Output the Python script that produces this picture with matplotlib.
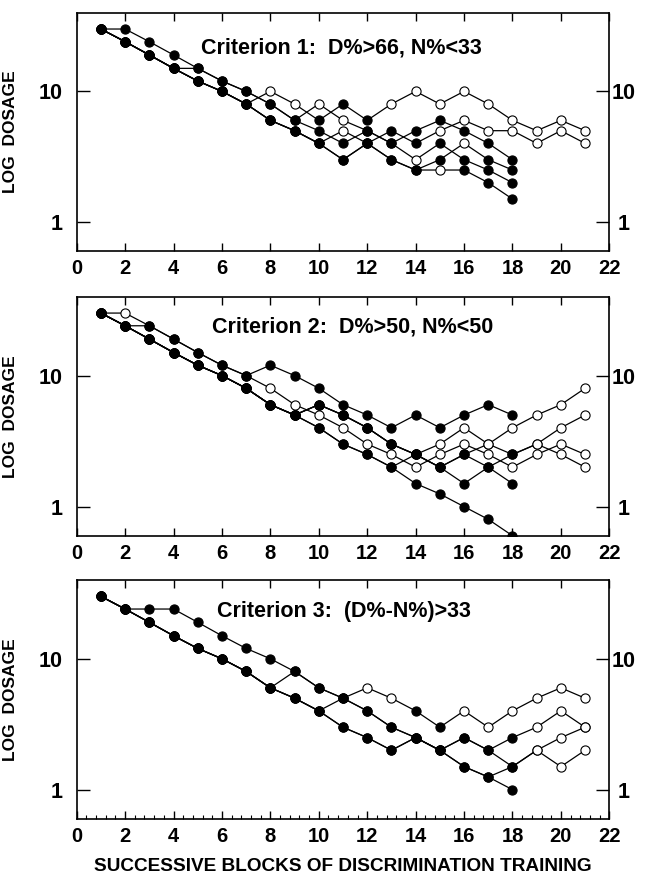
import numpy as np
import matplotlib
matplotlib.use('Agg')
from matplotlib import pyplot as plt
from matplotlib.ticker import FixedLocator, MultipleLocator, NullLocator

plt.rcParams['font.family'] = ['Liberation Sans', 'DejaVu Sans']
plt.rcParams['font.weight'] = 'bold'

# dosage per block (block 1 .. n), one list per subject; *_open = blocks drawn with open circles
# Criterion 1
c1_a = [30, 24, 19, 15, 12, 10, 8, 10, 8, 6, 8, 6, 8, 10, 8, 10, 8, 6, 5, 6, 5]
c1_a_open = [8, 9, 13, 14, 15, 16, 17, 18, 19, 20, 21]
c1_b = [30, 30, 24, 19, 15, 12, 10, 8, 6, 8, 6, 5, 4, 3, 4, 3, 2.5, 2]
c1_b_open = [10, 11, 14]
c1_c = [30, 24, 19, 15, 15, 12, 10, 8, 6, 5, 4, 5, 4, 5, 6, 5, 4, 3]
c1_c_open = []
c1_d = [30, 24, 19, 15, 12, 10, 8, 6, 5, 4, 3, 4, 3, 2.5, 3, 4, 3, 2.5]
c1_d_open = [16]
c1_e = [30, 24, 19, 15, 12, 10, 8, 6, 5, 4, 5, 4, 5, 4, 5, 6, 5, 5, 4, 5, 4]
c1_e_open = [11, 15, 16, 17, 18, 19, 20, 21]
c1_f = [30, 24, 19, 15, 12, 10, 8, 6, 5, 4, 3, 4, 3, 2.5, 2.5, 2.5, 2, 1.5]
c1_f_open = [15]

# Criterion 2
c2_a = [30, 30, 24, 19, 15, 12, 10, 12, 10, 8, 6, 5, 4, 5, 4, 5, 6, 5]
c2_a_open = [2]
c2_b = [30, 24, 24, 19, 15, 12, 10, 8, 6, 5, 4, 3, 2.5, 2, 2.5, 3, 2.5, 2, 2.5, 3, 2.5]
c2_b_open = list(range(8, 22))
c2_c = [30, 24, 19, 15, 12, 10, 8, 6, 5, 4, 3, 2.5, 2, 1.5, 1.25, 1, 0.8, 0.6]
c2_c_open = []
c2_d = [30, 24, 19, 15, 12, 10, 8, 6, 5, 6, 5, 4, 3, 2.5, 2, 1.5, 2, 1.5]
c2_d_open = []
c2_e = [30, 24, 19, 15, 12, 10, 8, 6, 5, 4, 3, 2.5, 2, 2.5, 3, 4, 3, 4, 5, 6, 8]
c2_e_open = [15, 16, 17, 18, 19, 20, 21]
c2_f = [30, 24, 19, 15, 12, 10, 8, 6, 5, 6, 5, 4, 3, 2.5, 2, 2.5, 3, 2.5, 3, 4, 5]
c2_f_open = [17, 19, 20, 21]
c2_g = [30, 24, 19, 15, 12, 10, 8, 6, 5, 6, 5, 4, 3, 2.5, 2, 2.5, 2, 2.5, 3, 2.5, 2]
c2_g_open = [19, 20, 21]

# Criterion 3
c3_a = [30, 24, 24, 24, 19, 15, 12, 10, 8, 6, 5, 4, 3, 2.5, 2, 2.5, 2, 2.5, 3, 4, 3]
c3_a_open = [19, 20, 21]
c3_b = [30, 24, 19, 15, 12, 10, 8, 6, 8, 6, 5, 4, 3, 2.5, 2, 2.5, 2, 1.5, 2, 2.5, 3]
c3_b_open = [19, 20, 21]
c3_c = [30, 24, 19, 15, 12, 10, 8, 6, 5, 4, 5, 6, 5, 4, 3, 4, 3, 4, 5, 6, 5]
c3_c_open = [12, 13, 16, 17, 18, 19, 20, 21]
c3_d = [30, 24, 19, 15, 12, 10, 8, 6, 5, 4, 3, 2.5, 2, 2.5, 2, 1.5, 1.25, 1]
c3_d_open = []
c3_e = [30, 24, 19, 15, 12, 10, 8, 6, 5, 4, 3, 2.5, 2, 2.5, 2, 1.5, 1.25, 1.5, 2, 1.5, 2]
c3_e_open = [19, 20, 21]

panels = [
    ('Criterion 1:  D%>66, N%<33', 5.15, 0.852,
     [(c1_a, c1_a_open), (c1_b, c1_b_open), (c1_c, c1_c_open),
      (c1_d, c1_d_open), (c1_e, c1_e_open), (c1_f, c1_f_open)]),
    ('Criterion 2:  D%>50, N%<50', 5.58, 0.872,
     [(c2_a, c2_a_open), (c2_b, c2_b_open), (c2_c, c2_c_open), (c2_d, c2_d_open),
      (c2_e, c2_e_open), (c2_f, c2_f_open), (c2_g, c2_g_open)]),
    ('Criterion 3:  (D%-N%)>33', 5.78, 0.867,
     [(c3_a, c3_a_open), (c3_b, c3_b_open), (c3_c, c3_c_open),
      (c3_d, c3_d_open), (c3_e, c3_e_open)]),
]

W, H = 646, 885
fig = plt.figure(figsize=(W / 100, H / 100), dpi=100)
left, right = 76.7, 609.3
tops = [12.7, 296.7, 580.0]
bottoms = [251.0, 535.7, 818.7]

axes = []
for i, (title, tx, ty, subjects) in enumerate(panels):
    ax = fig.add_axes([left / W, 1 - bottoms[i] / H, (right - left) / W,
                       (bottoms[i] - tops[i]) / H])
    axes.append(ax)
    z = 2
    for vals, opened in subjects:
        x = np.arange(1, len(vals) + 1)
        v = np.array(vals, dtype=float)
        is_open = np.isin(x, opened)
        ax.plot(x, v, color='black', lw=0.9, zorder=z)
        ax.plot(x[~is_open], v[~is_open], 'o', ms=6.6, mfc='black', mec='black',
                mew=0.8, ls='none', zorder=z + 0.5)
        ax.plot(x[is_open], v[is_open], 'o', ms=6.6, mfc='white', mec='black',
                mew=0.8, ls='none', zorder=z + 0.5)
        z += 1

    ax.set_yscale('log')
    ax.set_ylim(0.6, 40)
    ax.set_xlim(0, 22)
    ax.yaxis.set_major_locator(FixedLocator([1, 10]))
    ax.yaxis.set_minor_locator(NullLocator())
    ax.set_yticklabels(['1', '10'])
    ax.xaxis.set_major_locator(MultipleLocator(2))
    ax.xaxis.set_major_formatter(plt.FuncFormatter(lambda v, p: '%d' % v))
    if i == 2:
        ax.xaxis.set_minor_locator(MultipleLocator(0.4))
        ax.tick_params(axis='x', which='minor', direction='in', bottom=True,
                       top=False, length=3, width=0.8)
    else:
        ax.xaxis.set_minor_locator(NullLocator())
    ax.tick_params(axis='x', which='major', direction='in', top=True, bottom=True,
                   length=6, width=1.0, labelsize=14.5, pad=6)
    ax.tick_params(axis='y', which='major', direction='in', left=True, right=True,
                   labelleft=True, labelright=True, length=9.5, width=1.0,
                   labelsize=15.5, pad=10)
    for t in ax.yaxis.get_major_ticks():
        t.label2.set_horizontalalignment('center')
    for s in ax.spines.values():
        s.set_linewidth(1.2)

    ax.text(tx, ty, title, transform=ax.get_xaxis_transform(), fontsize=15.5,
            fontweight='bold', ha='left', va='center')
    ax.set_ylabel('LOG  DOSAGE', fontsize=12.5, fontweight='bold')
    ax.yaxis.set_label_coords(-0.110, 0.5)

axes[2].set_xlabel('SUCCESSIVE BLOCKS OF DISCRIMINATION TRAINING', fontsize=13.7,
                   fontweight='bold')
axes[2].xaxis.set_label_coords(0.5, -0.165)

fig.savefig('out.png', dpi=100)
